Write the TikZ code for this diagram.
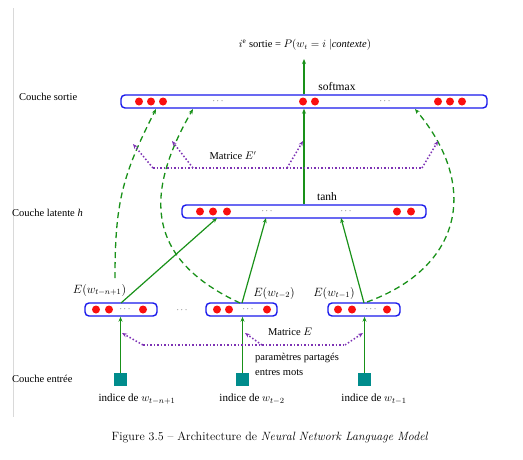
\documentclass[tikz,border=0pt]{standalone}
\usepackage{fontspec}
\setmainfont{Liberation Serif}
\usetikzlibrary{arrows.meta}
\definecolor{gr}{RGB}{25,145,25}
\definecolor{bl}{RGB}{25,25,235}
\definecolor{rd}{RGB}{250,15,15}
\definecolor{pu}{RGB}{125,50,180}
\definecolor{tl}{RGB}{0,140,140}
\newcommand{\capfnt}{\fontfamily{lmr}\selectfont}
\begin{document}
\begin{tikzpicture}[x=1pt,y=-1pt,
  layerbox/.style={draw=bl, line width=1.4pt, rounded corners=4pt, inner sep=0pt, minimum height=13pt},
  neuron/.style={circle, fill=rd, inner sep=0pt, minimum size=8pt},
  conn/.style={draw=gr, line width=1.2pt, -{Stealth[length=5pt,width=4pt]}},
  dconn/.style={draw=gr, line width=1.3pt, dash pattern=on 6pt off 4pt, -{Stealth[length=5pt,width=4pt]}},
  matline/.style={draw=pu, line width=1.5pt, dash pattern=on 1.5pt off 2pt},
  matarrow/.style={matline, -{Stealth[length=5pt,width=4pt]}},
  lbl/.style={inner sep=0pt, font=\fontsize{10.5}{12}\selectfont},
  elbl/.style={inner sep=0pt, font=\fontsize{12}{14}\selectfont},
  ilbl/.style={inner sep=0pt, font=\fontsize{11}{13}\selectfont},
  inputsq/.style={fill=tl, minimum size=13pt, inner sep=0pt},
  dots/.style={inner sep=0pt, text=black!85, font=\small}
]
\useasboundingbox (0,0) rectangle (523,459);
\draw[black!15, line width=0.6pt] (13,8) -- (13,417);

% title
\node[lbl] (title) at (305,45) {$i^{\mathrm{e}}$ sortie = $P(w_t = i\ |\mathit{contexte})$};
\coordinate (titlein) at (304,59);

% output layer
\node[layerbox, minimum width=366pt] (out) at (304,101.5) {};
\foreach \x [count=\i] in {139,151,163,303,315,438,450,462}
  \node[neuron] (o\i) at (\x,101.5) {};
\node[dots] (od1) at (218,101) {$\cdots$};
\node[dots] (od2) at (385,101) {$\cdots$};
\node[lbl, font=\fontsize{11.5}{13}\selectfont] (softmax) at (337,87) {softmax};
\node[lbl, anchor=west] (cs) at (19,97) {Couche sortie};

% latent layer
\node[layerbox, minimum width=244pt] (h) at (304,211.5) {};
\foreach \x [count=\i] in {200,213,227,397,411}
  \node[neuron] (h\i) at (\x,211.5) {};
\node[dots] (hd1) at (267,211) {$\cdots$};
\node[dots] (hd2) at (346,211) {$\cdots$};
\node[lbl, font=\fontsize{11.5}{13}\selectfont] (tanh) at (327,197) {tanh};
\node[lbl, anchor=west] (cl) at (12,213) {Couche latente \textit{h}};

% embedding layer
\node[layerbox, minimum width=72pt] (e1) at (121,309.5) {};
\node[layerbox, minimum width=71pt] (e2) at (241.5,309.5) {};
\node[layerbox, minimum width=72pt] (e3) at (364,309.5) {};
\foreach \x [count=\i] in {96,109,143, 217,229,267, 338,352,387}
  \node[neuron] (en\i) at (\x,309.5) {};
\node[dots] (ed1) at (125,309) {$\cdots$};
\node[dots] (ed2) at (248,309) {$\cdots$};
\node[dots] (ed3) at (371,309) {$\cdots$};
\node[dots] (ebetween) at (182,310) {$\cdots$};
\node[elbl] (le1) at (99.5,290) {$E(w_{t-n+1})$};
\node[elbl] (le2) at (274,293) {$E(w_{t-2})$};
\node[elbl] (le3) at (334,293) {$E(w_{t-1})$};

% input layer
\node[inputsq] (s1) at (120.5,379.5) {};
\node[inputsq] (s2) at (242.5,379.5) {};
\node[inputsq] (s3) at (364.5,379.5) {};
\node[ilbl] (i1) at (137,399) {indice de $w_{t-n+1}$};
\node[ilbl] (i2) at (252,399) {indice de $w_{t-2}$};
\node[ilbl] (i3) at (374,399) {indice de $w_{t-1}$};
\node[lbl, anchor=west] (ce) at (12,379) {Couche entr\'ee};

% texts for matrices
\node[lbl] (me2) at (233,156) {Matrice $E'$};
\node[lbl] (me) at (290,332) {Matrice $E$};
\node[lbl, anchor=west] (pp1) at (255,358) {param\`etres partag\'es};
\node[lbl, anchor=west] (pp2) at (255,373) {entres mots};

% solid connectors
\draw[conn] (s1.north) -- (s1.north |- e1.south);
\draw[conn] (s2.north) -- (s2.north |- e2.south);
\draw[conn] (s3.north) -- (s3.north |- e3.south);
\coordinate (hin1) at (217,218);
\coordinate (hin2) at (266,218);
\coordinate (hin3) at (341,218);
\coordinate (eo1) at (121,303);
\coordinate (eo2) at (242,303);
\coordinate (eo3) at (364,303);
\draw[conn] (eo1) -- (hin1);
\draw[conn] (eo2) -- (hin2);
\draw[conn] (eo3) -- (hin3);
\draw[conn] (h.north) -- (out.south);
\draw[conn] (out.north) -- (titlein);

% dashed curves
\coordinate (d1s) at (115,278);
\coordinate (d1e) at (156,109);
\coordinate (d2s) at (240,303);
\coordinate (d2e) at (193,109);
\coordinate (d3s) at (367,302);
\coordinate (d3e) at (415,109);
\draw[dconn] (d1s) to[out=90, in=243, looseness=1.1] (d1e);
\draw[dconn] (d2s) to[out=155, in=240, looseness=1.3] (d2e);
\draw[dconn] (d3s) to[out=20, in=-50, looseness=1.3] (d3e);

% matrix E (bottom)
\coordinate (mb1) at (143,345);
\coordinate (mb2) at (262,345);
\coordinate (mb3) at (345,345);
\coordinate (mt1) at (122,333);
\coordinate (mt2) at (245,333);
\coordinate (mt3) at (363,333);
\draw[matline] (mb1) -- (mb3);
\draw[matarrow] (mb1) -- (mt1);
\draw[matarrow] (mb2) -- (mt2);
\draw[matarrow] (mb3) -- (mt3);

% matrix E' (top)
\coordinate (nb1) at (153,168);
\coordinate (nb2) at (193,168);
\coordinate (nb3) at (287,168);
\coordinate (nb4) at (422,168);
\coordinate (nt1) at (133,144);
\coordinate (nt2) at (172,141);
\coordinate (nt3) at (303,141);
\coordinate (nt4) at (438,141);
\draw[matline] (nb1) -- (nb4);
\draw[matarrow] (nb1) -- (nt1);
\draw[matarrow] (nb2) -- (nt2);
\draw[matarrow] (nb3) -- (nt3);
\draw[matarrow] (nb4) -- (nt4);

% caption
\node[inner sep=0pt, font=\capfnt\fontsize{12}{14}\selectfont] (cap) at (270,437)
  {Figure \oldstylenums{3.5} -- Architecture de \textit{Neural Network Language Model}};
\end{tikzpicture}
\end{document}
